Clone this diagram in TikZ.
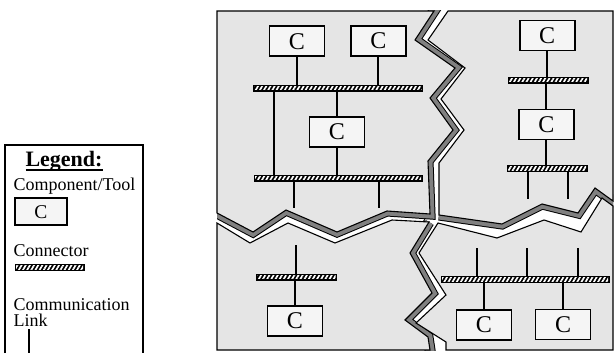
\documentclass[tikz,border=0pt]{standalone}
\usepackage{fontspec}
\setmainfont{Liberation Serif}
\usetikzlibrary{patterns.meta}
\definecolor{piecefill}{gray}{0.9}
\definecolor{boxfill}{gray}{0.96}
\definecolor{bandgray}{gray}{0.5}
\newcommand\legendul[1]{\sbox0{#1}\rlap{\rule[-4pt]{\wd0}{2.2pt}}\usebox0}
\tikzset{
  comp/.style={draw=black, line width=1.6pt, fill=boxfill, minimum width=55pt, minimum height=30pt, inner sep=0pt, font=\fontsize{24}{26}\selectfont},
  legcomp/.style={comp, line width=2.2pt, minimum width=51.7pt, minimum height=26.7pt, font=\fontsize{19.5}{21}\selectfont},
  bar/.style={draw=black, line width=1pt, fill=black, inner sep=0pt, minimum height=6pt,
    path picture={\fill[pattern={Lines[angle=60,distance=3.6pt,line width=1.7pt]}, pattern color=white]
      ([shift={(1pt,1.1pt)}]path picture bounding box.south west) rectangle ([shift={(-1pt,-1.1pt)}]path picture bounding box.north east);}},
  link/.style={draw=black, line width=1.8pt},
  piece/.style={fill=piecefill, draw=black, line width=1.1pt, line join=miter},
  band/.style={draw=black, line width=1pt, double=bandgray, double distance=9pt, line join=miter, miter limit=8},
  legtext/.style={anchor=base west, inner sep=0pt, font=\fontsize{18}{15.5}\selectfont},
}
\begin{document}
\begin{tikzpicture}[x=1pt,y=-1pt]
\useasboundingbox (0,0) rectangle (615,353);
% crack bands
\begin{scope}
\clip (217,11) rectangle (613,350);
\draw[band] (441,0) -- (434,11) -- (415,40) -- (455,68) -- (430,98) -- (453,130) -- (428,161) -- (430,214) -- (387,211) -- (337,232) -- (286,210) -- (253,232) -- (217,213) -- (205,207);
\draw[band] (439,215) -- (502,224) -- (542,204) -- (578,213) -- (595,188) -- (613,201) -- (630,213);
\draw[band] (429,222) -- (410,253) -- (432,293) -- (405,320) -- (428,337) -- (430,350) -- (432,362);
\end{scope}
% pieces
\filldraw[piece] (217,11) -- (434,11) -- (415,40) -- (455,68) -- (430,98) -- (453,130) -- (428,161) -- (430,214) -- (387,211) -- (337,232) -- (286,210) -- (253,232) -- (217,213) -- cycle;
\filldraw[piece] (448,11) -- (613,11) -- (613,201) -- (595,188) -- (578,213) -- (542,204) -- (502,224) -- (439,215) -- (439,163) -- (464,130) -- (441,99) -- (465,68) -- (428,40) -- cycle;
\filldraw[piece] (217,223) -- (250,243) -- (288,223) -- (335,243) -- (392,220) -- (429,222) -- (410,253) -- (432,293) -- (405,320) -- (428,337) -- (430,350) -- (217,350) -- cycle;
\filldraw[piece] (438,223) -- (497,238) -- (544,220) -- (581,232) -- (602,198) -- (613,206) -- (613,350) -- (446,350) -- (446,342) -- (416,323) -- (446,295) -- (419,253) -- cycle;
% bars
\node[bar, minimum width=169pt] (b1) at (338,88) {};
\node[bar, minimum width=168pt] (b2) at (338,178) {};
\node[bar, minimum width=80pt] (b3) at (548,80) {};
\node[bar, minimum width=80pt] (b4) at (547,168.3) {};
\node[bar, minimum width=80pt] (b5) at (296.7,277) {};
\node[bar, minimum width=168pt] (b6) at (525.2,279.3) {};
% components
\node[comp] (c1) at (296.8,41.2) {C};
\node[comp] (c2) at (378.3,41) {C};
\node[comp] (c3) at (336.8,132) {C};
\node[comp] (c4) at (547.2,35.7) {C};
\node[comp] (c5) at (546.3,124.3) {C};
\node[comp] (c6) at (294.8,321) {C};
\node[comp] (c7) at (483.8,325) {C};
\node[comp] (c8) at (563,324.5) {C};
% stub ends
\coordinate (s1) at (294,208.3);
\coordinate (s2) at (379,208.3);
\coordinate (s3) at (527.7,199.3);
\coordinate (s4) at (567.7,199.3);
\coordinate (s5) at (296,245);
\coordinate (s6) at (476.7,248.3);
\coordinate (s7) at (526.7,248.3);
\coordinate (s8) at (578.3,248.3);
% links
\draw[link] (c1.south) -- (c1.south |- b1.north);
\draw[link] (c2.south) -- (c2.south |- b1.north);
\draw[link] ([xshift=-64pt]b1.south) -- ([xshift=-64pt]b2.north);
\draw[link] (b1.south -| c3.north) -- (c3.north);
\draw[link] (c3.south) -- (c3.south |- b2.north);
\draw[link] (b2.south -| s1) -- (s1);
\draw[link] (b2.south -| s2) -- (s2);
\draw[link] (c4.south) -- (c4.south |- b3.north);
\draw[link] (b3.south -| c5.north) -- (c5.north);
\draw[link] (c5.south) -- (c5.south |- b4.north);
\draw[link] (b4.south -| s3) -- (s3);
\draw[link] (b4.south -| s4) -- (s4);
\draw[link] (s5) -- (s5 |- b5.north);
\draw[link] (b5.south -| c6.north) -- (c6.north);
\draw[link] (s6) -- (s6 |- b6.north);
\draw[link] (s7) -- (s7 |- b6.north);
\draw[link] (s8) -- (s8 |- b6.north);
\draw[link] (b6.south -| c7.north) -- (c7.north);
\draw[link] (b6.south -| c8.north) -- (c8.north);
% legend
\draw[line width=2pt, line join=miter] (4.5,353) -- (4.5,145) -- (143.3,145) -- (143.3,353);
\node[anchor=base, inner sep=0pt, font=\fontsize{22}{24}\selectfont\bfseries] (lt) at (64,166.7) {\legendul{Legend:}};
\node[legtext] (lct) at (13.5,190) {Component/Tool};
\node[legcomp] (lc) at (40.8,211.7) {C};
\node[legtext] (lcn) at (13.5,256.7) {Connector};
\node[bar, minimum width=69pt] (lb) at (49.7,267.8) {};
\node[legtext] (lcl) at (13.5,310.5) {\vtop{\hbox{Communication}\hbox{Link}}};
\coordinate (lk1) at (29.3,329);
\coordinate (lk2) at (29.3,353);
\draw[link] (lk1) -- (lk2);
\end{tikzpicture}
\end{document}
